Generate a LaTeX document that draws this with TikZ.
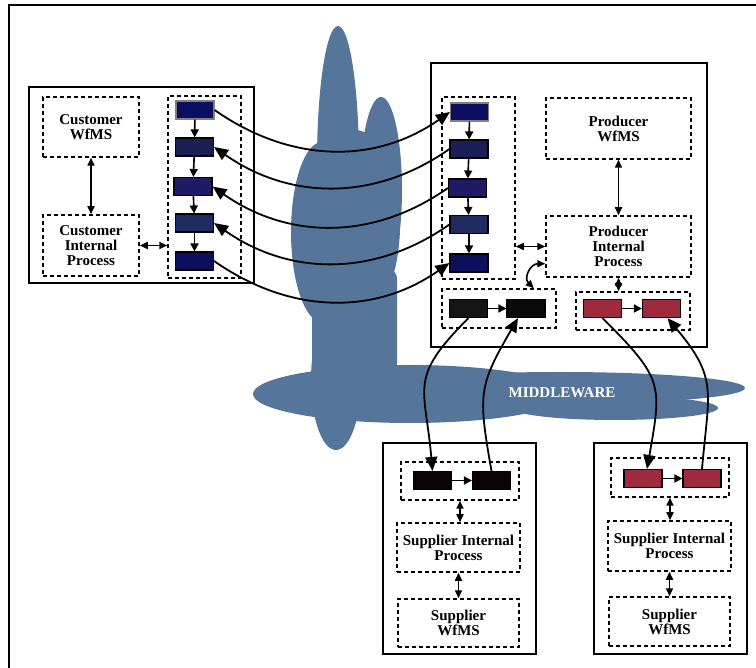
\documentclass[tikz,border=0pt]{standalone}
\usepackage{fontspec}
\setmainfont{Liberation Serif}
\usetikzlibrary{arrows.meta,positioning,calc}
\definecolor{cloudblue}{HTML}{56759A}
\definecolor{wine}{HTML}{9E2A3E}
\definecolor{deepnavy}{HTML}{0C0E5E}
\definecolor{duskblue}{HTML}{1B1F55}
\definecolor{indigo}{HTML}{1F1A66}
\definecolor{slateblue}{HTML}{1F2A5E}
\definecolor{coal}{HTML}{151515}
\definecolor{jet}{HTML}{0A0A0A}
\definecolor{sable}{HTML}{0A0205}
\newcommand{\wflabel}{\bfseries\fontsize{15}{15}\selectfont}
\tikzset{
    sysbox/.style={draw=black,line width=1.6pt,inner sep=0pt},
    dashbox/.style={draw=black,line width=1.5pt,dash pattern=on 4pt off 3pt,
      inner sep=2pt,align=center,font=\wflabel},
    taskbox/.style={draw=black,line width=1.1pt,minimum width=38pt,
      minimum height=18pt,inner sep=0pt},
    flowarrow/.style={-{Triangle[length=14pt,width=12pt]},line width=1.8pt},
    steparrow/.style={-{Triangle[length=8pt,width=8pt]},line width=1.6pt},
    linkarrow/.style={{Triangle[length=8pt,width=7pt]}-{Triangle[length=8pt,width=7pt]},
      line width=1.6pt},
    cloudpart/.style={fill=cloudblue,draw=none}
}

\begin{document}
\begin{tikzpicture}[x=1pt,y=1pt]
  \useasboundingbox (0,0) rectangle (756,-668);
  % frame
  \draw[line width=1.6pt] (756,-5) -- (9,-5) -- (9,-668);

  % middleware cloud
  \fill[cloudpart] (338,-163) ellipse (21 and 137);
  \fill[cloudpart] (381,-190) ellipse (21 and 93);
  \fill[cloudpart] (322,-232) ellipse (31 and 90);
  \fill[cloudpart] (355,-225) ellipse (45 and 95);
  \fill[cloudpart,rounded corners=8pt] (312,-270) rectangle (397,-372);
  \fill[cloudpart] (336,-380) ellipse (25 and 70);
  \fill[cloudpart] (410,-394) ellipse (157 and 29);
  \fill[cloudpart] (560,-388) ellipse (185 and 16);
  \fill[cloudpart] (615,-408) ellipse (103 and 12);
  \node[text=white,font=\wflabel] (mw) at (562,-393) {MIDDLEWARE};

  % customer side
  \node[sysbox,minimum width=225pt,minimum height=196pt] (custsys) at (141.5,-185) {};
  \node[dashbox,minimum width=96pt,minimum height=60pt] (custwf) at (91,-127) {Customer\\WfMS};
  \node[dashbox,minimum width=96pt,minimum height=61pt] (custip) at (91,-245.5) {Customer\\Internal\\Process};
  \node[dashbox,minimum width=73pt,minimum height=182pt] (custcol) at (204.5,-187) {};
  \node[taskbox,fill=deepnavy,draw=gray] (r1) at (195,-110) {};
  \node[taskbox,fill=duskblue] (r2) at (194.5,-147) {};
  \node[taskbox,fill=indigo] (r3) at (193,-186.5) {};
  \node[taskbox,fill=slateblue] (r4) at (194.5,-223) {};
  \node[taskbox,fill=deepnavy] (r5) at (194.5,-261) {};

  % producer side
  \node[sysbox,minimum width=276pt,minimum height=284pt] (prodsys) at (569,-205) {};
  \node[dashbox,minimum width=73pt,minimum height=182pt] (prodcol) at (478.5,-188) {};
  \node[taskbox,fill=deepnavy,draw=gray] (p1) at (469.5,-112) {};
  \node[taskbox,fill=duskblue] (p2) at (469,-149) {};
  \node[taskbox,fill=indigo] (p3) at (467.5,-188) {};
  \node[taskbox,fill=slateblue] (p4) at (469,-224.5) {};
  \node[taskbox,fill=deepnavy] (p5) at (469,-263) {};
  \node[dashbox,minimum width=145pt,minimum height=61pt] (prodwf) at (618.5,-128.5) {Producer\\WfMS};
  \node[dashbox,minimum width=145pt,minimum height=61pt] (prodip) at (618.5,-246.5) {Producer\\Internal\\Process};
  \node[dashbox,minimum width=114pt,minimum height=39pt] (blkgrp) at (499,-308.5) {};
  \node[taskbox,fill=coal] (b1) at (468.5,-308.5) {};
  \node[taskbox,fill=jet] (b2) at (526,-308.5) {};
  \node[dashbox,minimum width=114pt,minimum height=38pt] (redgrp) at (633,-311) {};
  \node[taskbox,fill=wine] (rd1) at (602.5,-308.5) {};
  \node[taskbox,fill=wine] (rd2) at (661.5,-308.5) {};

  % suppliers
  \node[sysbox,minimum width=153pt,minimum height=211pt] (supAsys) at (459.5,-548.5) {};
  \node[dashbox,minimum width=118pt,minimum height=38pt] (supAgrp) at (460,-481) {};
  \node[taskbox,fill=sable] (sa1) at (432.5,-480.5) {};
  \node[taskbox,fill=sable] (sa2) at (491.5,-480.5) {};
  \node[dashbox,minimum width=123pt,minimum height=49pt] (supAip) at (458.5,-547.5) {Supplier Internal\\Process};
  \node[dashbox,minimum width=121pt,minimum height=48pt] (supAwf) at (458.5,-623) {Supplier\\WfMS};

  \node[sysbox,minimum width=153pt,minimum height=211pt] (supBsys) at (670.5,-548.5) {};
  \node[dashbox,minimum width=118pt,minimum height=39pt] (supBgrp) at (670,-477.5) {};
  \node[taskbox,fill=wine] (sb1) at (643,-478.5) {};
  \node[taskbox,fill=wine] (sb2) at (702,-478.5) {};
  \node[dashbox,minimum width=123pt,minimum height=50pt] (supBip) at (669.5,-546) {Supplier Internal\\Process};
  \node[dashbox,minimum width=121pt,minimum height=49pt] (supBwf) at (669.5,-621.5) {Supplier\\WfMS};

  % steps inside the process columns
  \foreach \a/\b in {1/2,2/3,3/4,4/5} {
    \draw[steparrow] (r\a) -- (r\b);
    \draw[steparrow] (p\a) -- (p\b);
  }
  \draw[steparrow] (b1) -- (b2);
  \draw[steparrow] (rd1) -- (rd2);
  \draw[steparrow] (sa1) -- (sa2);
  \draw[steparrow] (sb1) -- (sb2);

  % links between the local boxes
  \draw[linkarrow] (custwf) -- (custip);
  \draw[linkarrow] (custip.east) -- (custip.east -| custcol.west);
  \draw[linkarrow] (prodwf) -- (prodip);
  \draw[linkarrow] (prodip.west -| prodcol.east) -- (prodip.west);
  \draw[linkarrow] (prodip.south) -- (prodip.south |- redgrp.north);
  \draw[linkarrow] ([xshift=-23pt]blkgrp.north east) to[out=135,in=180,looseness=1.4]
    ([yshift=14pt]prodip.south west);
  \draw[linkarrow] (supAgrp) -- (supAgrp |- supAip.north);
  \draw[linkarrow] (supAip.south) -- (supAip.south |- supAwf.north);
  \draw[linkarrow] (supBgrp) -- (supBgrp |- supBip.north);
  \draw[linkarrow] (supBip.south) -- (supBip.south |- supBwf.north);

  % messages through the middleware
  \draw[flowarrow] (r1.east) to[out=-35,in=-145] (p1.west);
  \foreach \n in {2,3,4}
    \draw[flowarrow] (p\n.west) to[out=-145,in=-35] (r\n.east);
  \draw[flowarrow] (r5.east) to[out=-35,in=-145] (p5.west);

  \draw[flowarrow] (b1.south) to[out=-135,in=95,looseness=1.4] (sa1.north);
  \draw[flowarrow] (sa2.north) to[out=100,in=-120,looseness=1.3] ([xshift=-8pt]b2.south);
  \draw[flowarrow] (rd1.south) to[out=-45,in=80,looseness=1.4] ([xshift=4pt]sb1.north);
  \draw[flowarrow] (sb2.north) to[out=85,in=-50,looseness=1.3] ([xshift=6pt]rd2.south);
\end{tikzpicture}
\end{document}
